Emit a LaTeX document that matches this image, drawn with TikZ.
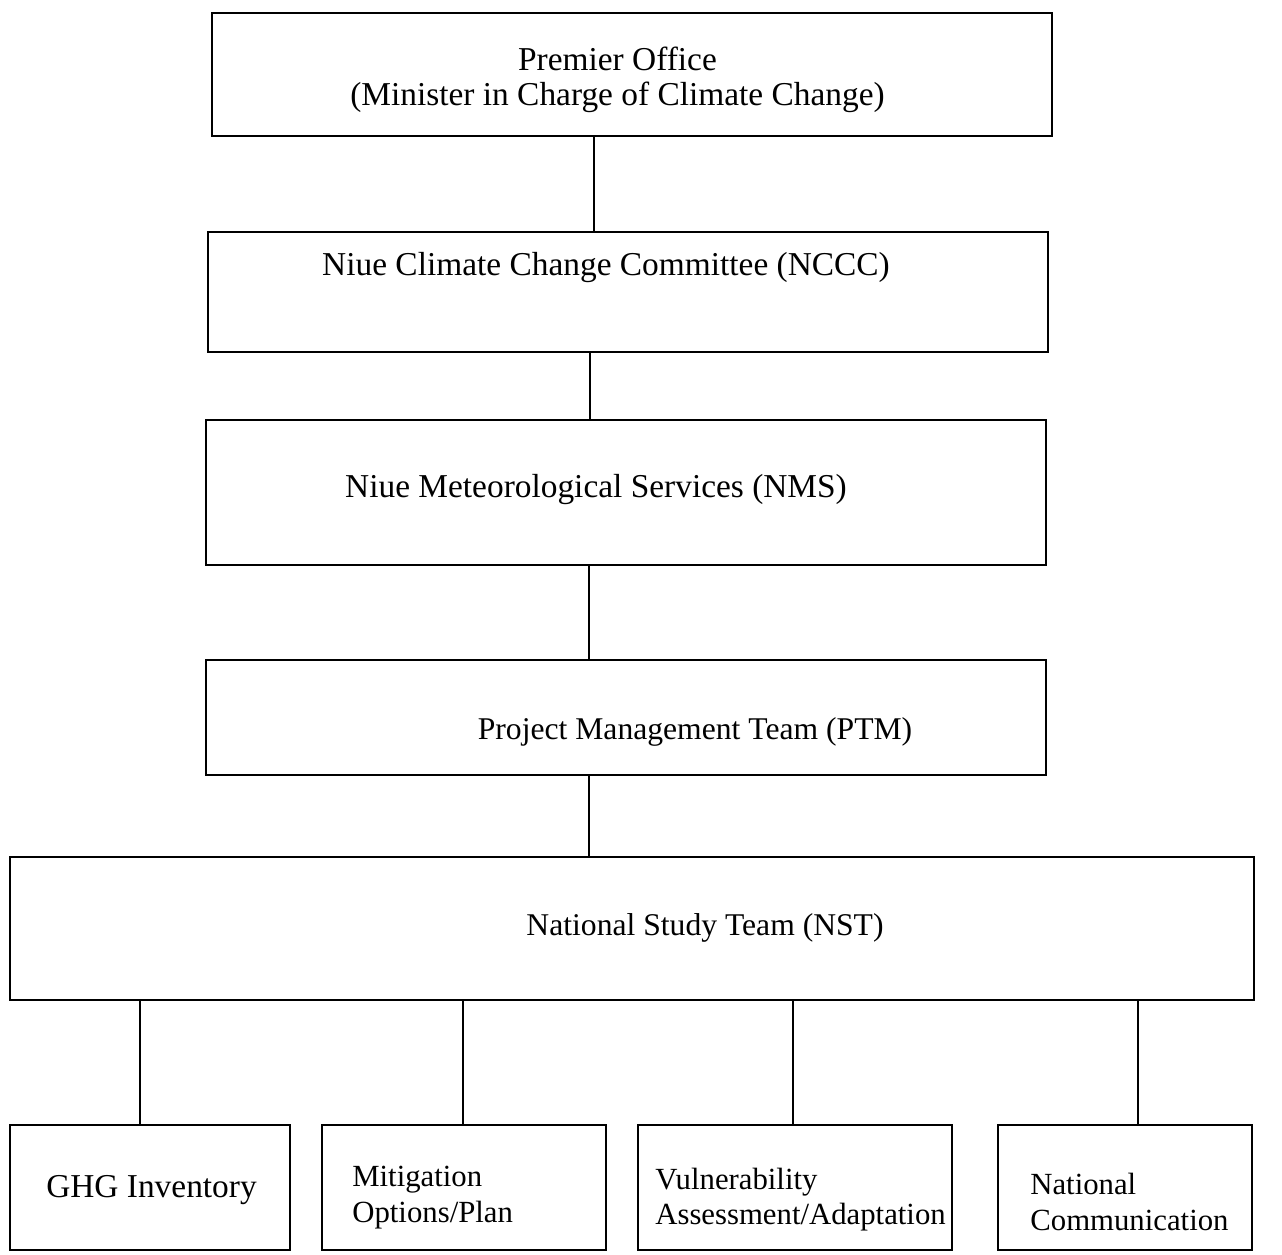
\documentclass[tikz,border=0pt]{standalone}
\usepackage{fontspec}
\setmainfont{Liberation Serif}

\begin{document}
\begin{tikzpicture}[
    orgbox/.style={draw, line width=1.5pt, inner sep=0pt},
    orgtext/.style={font=\fontsize{18}{20}\selectfont, inner sep=0pt},
    orgtextl/.style={font=\fontsize{19}{20}\selectfont, inner sep=0pt},
    subtext/.style={font=\fontsize{17.5}{20}\selectfont, inner sep=0pt, align=left, anchor=west},
    link/.style={line width=1.5pt}
  ]
  \useasboundingbox (0,0) rectangle (25.64,-25.08);

  % top chain
  \node[orgbox, minimum width=16.8cm, minimum height=2.46cm] (premier) at (12.64,-1.49) {};
  \node[orgtextl, align=center] (premier-txt) at (12.35,-1.6) {Premier Office\\(Minister in Charge of Climate Change)};

  \node[orgbox, minimum width=16.8cm, minimum height=2.4cm] (nccc) at (12.56,-5.84) {};
  \node[orgtextl] (nccc-txt) at (12.12,-5.36) {Niue Climate Change Committee (NCCC)};

  \node[orgbox, minimum width=16.8cm, minimum height=2.9cm] (nms) at (12.52,-9.85) {};
  \node[orgtextl] (nms-txt) at (11.92,-9.8) {Niue Meteorological Services (NMS)};

  \node[orgbox, minimum width=16.8cm, minimum height=2.3cm] (ptm) at (12.52,-14.35) {};
  \node[orgtext] (ptm-txt) at (13.9,-14.64) {Project Management Team (PTM)};

  \node[orgbox, minimum width=24.88cm, minimum height=2.86cm] (nst) at (12.64,-18.57) {};
  \node[orgtext] (nst-txt) at (14.1,-18.56) {National Study Team (NST)};

  % study components
  \node[orgbox, minimum width=5.6cm, minimum height=2.5cm] (ghg) at (3.0,-23.75) {};
  \node[orgtextl] (ghg-txt) at (3.03,-23.8) {GHG Inventory};

  \node[orgbox, minimum width=5.68cm, minimum height=2.5cm] (mit) at (9.28,-23.75) {};
  \node[subtext] (mit-txt) at (7.04,-23.95) {Mitigation\\Options/Plan};

  \node[orgbox, minimum width=6.28cm, minimum height=2.5cm] (vul) at (15.9,-23.75) {};
  \node[subtext] (vul-txt) at (13.1,-23.99) {Vulnerability\\Assessment/Adaptation};

  \node[orgbox, minimum width=5.08cm, minimum height=2.5cm] (natcom) at (22.5,-23.75) {};
  \node[subtext] (natcom-txt) at (20.6,-24.04) {National\\Communication};

  % connector columns
  \coordinate (col1) at (11.88,0);
  \coordinate (col2) at (11.8,0);
  \coordinate (col3) at (11.78,0);
  \coordinate (colA) at (2.8,0);
  \coordinate (colB) at (9.26,0);
  \coordinate (colC) at (15.86,0);
  \coordinate (colD) at (22.76,0);

  \draw[link] (premier.south -| col1) -- (nccc.north -| col1);
  \draw[link] (nccc.south -| col2) -- (nms.north -| col2);
  \draw[link] (nms.south -| col3) -- (ptm.north -| col3);
  \draw[link] (ptm.south -| col3) -- (nst.north -| col3);

  \draw[link] (nst.south -| colA) -- (ghg.north -| colA);
  \draw[link] (nst.south -| colB) -- (mit.north -| colB);
  \draw[link] (nst.south -| colC) -- (vul.north -| colC);
  \draw[link] (nst.south -| colD) -- (natcom.north -| colD);
\end{tikzpicture}
\end{document}
